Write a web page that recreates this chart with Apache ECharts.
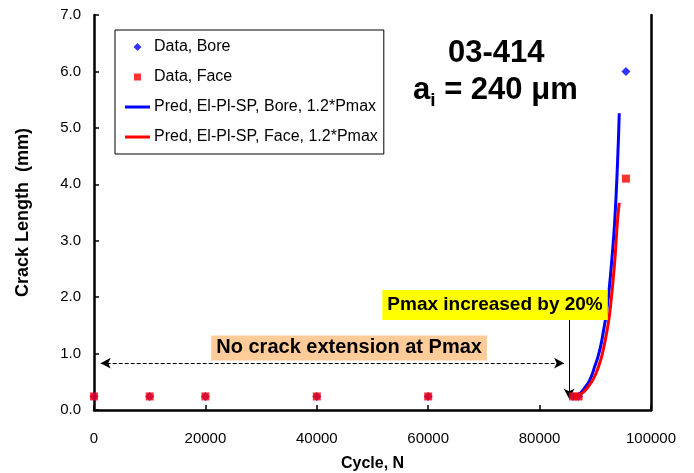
<!DOCTYPE html>
<html>
<head>
<meta charset="utf-8">
<script src="https://cdn.jsdelivr.net/npm/echarts@6/dist/echarts.min.js"></script>
<style>
  html, body { margin: 0; padding: 0; background: #fff; }
  #chart { width: 694px; height: 473px; }
</style>
</head>
<body>
<div id="chart"></div>
<script>
// Measured crack lengths (mm) against load cycles
const dataCycles = [0, 10000, 20000, 40000, 60000, 86000, 87000, 95500];
const boreLength = [0.24, 0.24, 0.24, 0.24, 0.24, 0.24, 0.24, 6.0];
const faceLength = [0.24, 0.24, 0.24, 0.24, 0.24, 0.24, 0.24, 4.1];

// Elastic-plastic shakedown predictions after the 20% load increase
const predBoreCycles = [86000, 87000, 88000, 89000, 90000, 90500, 91000, 91500, 92000, 92500, 93000, 93500, 94000, 94300];
const predBoreLength = [0.24, 0.27, 0.38, 0.53, 0.80, 0.95, 1.15, 1.42, 1.72, 2.15, 2.70, 3.37, 4.40, 5.26];
const predFaceCycles = [86000, 87000, 88000, 89000, 90000, 91000, 91500, 92000, 92500, 93000, 93500, 94000, 94300];
const predFaceLength = [0.24, 0.26, 0.33, 0.45, 0.62, 0.90, 1.10, 1.35, 1.65, 2.10, 2.65, 3.37, 3.67];

const seriesNames = [
  'Data, Bore',
  'Data, Face',
  'Pred, El-Pl-SP, Bore, 1.2*Pmax',
  'Pred, El-Pl-SP, Face, 1.2*Pmax'
];

const zip = (xs, ys) => xs.map((x, i) => [x, ys[i]]);

const FONT = '"Liberation Sans", Arial, sans-serif';

// Legend icons: the two zero-length strokes at the corners pin the path's
// bounding box to the full 25x8 icon cell, so the shapes keep their size.
const ICON_FRAME = 'M0,0L0.001,0M25,8L24.999,8';
const ICON_DIAMOND = 'path://' + ICON_FRAME + 'M8.5,4L12.5,0L16.5,4L12.5,8Z';
const ICON_SQUARE = 'path://' + ICON_FRAME + 'M9,0.5L16,0.5L16,7.5L9,7.5Z';
const ICON_LINE = 'path://' + ICON_FRAME + 'M0,2.5L25,2.5L25,5.5L0,5.5Z';

const chart = echarts.init(document.getElementById('chart'));

const markLineData = [
  [
    { coord: [1200, 0.83], symbol: 'arrow', symbolSize: [8, 10], lineStyle: { type: 'dashed', color: '#000', width: 1 } },
    { coord: [84400, 0.83], symbol: 'arrow', symbolSize: [8, 10] }
  ],
  [
    { coord: [85300, 1.65], symbol: 'none', lineStyle: { type: 'solid', color: '#000', width: 1 } },
    { coord: [85300, 0.2], symbol: 'arrow', symbolSize: [8, 10] }
  ]
];

chart.setOption({
  animation: false,
  backgroundColor: '#fff',
  textStyle: { fontFamily: FONT, color: '#000' },
  grid: { left: 94, right: 43, top: 15, bottom: 63, containLabel: false, outerBoundsMode: 'none' },
  legend: {
    data: [
      { name: seriesNames[0], icon: ICON_DIAMOND },
      { name: seriesNames[1], icon: ICON_SQUARE },
      { name: seriesNames[2], icon: ICON_LINE },
      { name: seriesNames[3], icon: ICON_LINE }
    ],
    orient: 'vertical',
    left: 115,
    top: 30,
    padding: [9, 6, 9, 10],
    itemGap: 14,
    itemWidth: 25,
    itemHeight: 8,
    borderColor: '#000',
    borderWidth: 1,
    itemStyle: { borderWidth: 0 },
    lineStyle: { width: 0 },
    textStyle: { fontFamily: FONT, fontSize: 16, color: '#000', padding: [0, 0, 0, -1] }
  },
  graphic: [
    {
      type: 'text',
      left: 448,
      top: 38,
      style: {
        text: '{b|03-414}',
        rich: { b: { fontFamily: FONT, fontSize: 31, fontWeight: 'bold', fill: '#000' } }
      },
      z: 10
    },
    {
      type: 'text',
      left: 413,
      top: 75,
      style: {
        text: '{b|a}{s|i}{b| = 240 \u03bcm}',
        rich: {
          b: { fontFamily: FONT, fontSize: 31, fontWeight: 'bold', fill: '#000', verticalAlign: 'bottom' },
          s: { fontFamily: FONT, fontSize: 19, fontWeight: 'bold', fill: '#000', verticalAlign: 'bottom', padding: [0, 0, -4, 0] }
        }
      },
      z: 10
    }
  ],
  xAxis: {
    type: 'value',
    min: 0,
    max: 100000,
    interval: 20000,
    name: 'Cycle, N',
    nameLocation: 'middle',
    nameGap: 46,
    nameTextStyle: { fontFamily: FONT, fontSize: 16, fontWeight: 'bold', color: '#000' },
    axisLine: { show: true, lineStyle: { color: '#000', width: 2.5 } },
    axisTick: { show: true, inside: true, length: 5, lineStyle: { color: '#000', width: 1.5 } },
    axisLabel: { fontFamily: FONT, fontSize: 15, color: '#000', margin: 21, formatter: v => String(v) },
    splitLine: { show: false }
  },
  yAxis: [
    {
      type: 'value',
      min: 0,
      max: 7,
      interval: 1,
      name: 'Crack Length  (mm)',
      nameLocation: 'middle',
      nameGap: 62,
      nameTextStyle: { fontFamily: FONT, fontSize: 18, fontWeight: 'bold', color: '#000' },
      axisLine: { show: true, lineStyle: { color: '#000', width: 2.5 } },
      axisTick: { show: true, inside: true, length: 5, lineStyle: { color: '#000', width: 1.5 } },
      axisLabel: { fontFamily: FONT, fontSize: 15, color: '#000', margin: 13, formatter: v => v.toFixed(1) },
      splitLine: { show: false }
    },
    {
      type: 'value',
      min: 0,
      max: 7,
      position: 'right',
      axisLine: { show: true, lineStyle: { color: '#000', width: 2.5 } },
      axisTick: { show: false },
      axisLabel: { show: false },
      splitLine: { show: false }
    }
  ],
  series: [
    {
      name: seriesNames[2],
      type: 'line',
      data: zip(predBoreCycles, predBoreLength),
      smooth: true,
      showSymbol: false,
      symbol: 'none',
      lineStyle: { color: '#0000ff', width: 3 },
      itemStyle: { color: '#0000ff' },
      z: 2
    },
    {
      name: seriesNames[3],
      type: 'line',
      data: zip(predFaceCycles, predFaceLength),
      smooth: true,
      showSymbol: false,
      symbol: 'none',
      lineStyle: { color: '#ff0000', width: 3 },
      itemStyle: { color: '#ff0000' },
      z: 3
    },
    {
      name: seriesNames[0],
      type: 'scatter',
      data: zip(dataCycles, boreLength),
      symbol: 'diamond',
      symbolSize: 9,
      itemStyle: { color: '#0000ff' },
      z: 4
    },
    {
      name: seriesNames[1],
      type: 'scatter',
      data: zip(dataCycles, faceLength),
      symbol: 'rect',
      symbolSize: 8,
      itemStyle: { color: '#ff0000' },
      z: 5,
      markLine: {
        silent: true,
        animation: false,
        label: { show: false },
        lineStyle: { color: '#000', width: 1 },
        data: markLineData
      },
      markPoint: {
        silent: true,
        symbol: 'rect',
        symbolSize: 0,
        data: [
          {
            coord: [45800, 1.10],
            label: {
              show: true,
              position: 'inside',
              formatter: 'No crack extension at Pmax',
              backgroundColor: '#ffcc99',
              padding: [3, 5, 2, 5],
              fontFamily: FONT,
              fontSize: 20,
              fontWeight: 'bold',
              color: '#000'
            }
          },
          {
            coord: [72000, 1.86],
            label: {
              show: true,
              position: 'inside',
              formatter: 'Pmax increased by 20%',
              backgroundColor: '#ffff00',
              padding: [6, 5, 5, 5],
              fontFamily: FONT,
              fontSize: 19,
              fontWeight: 'bold',
              color: '#000'
            }
          }
        ]
      }
    }
  ]
});
</script>
</body>
</html>
